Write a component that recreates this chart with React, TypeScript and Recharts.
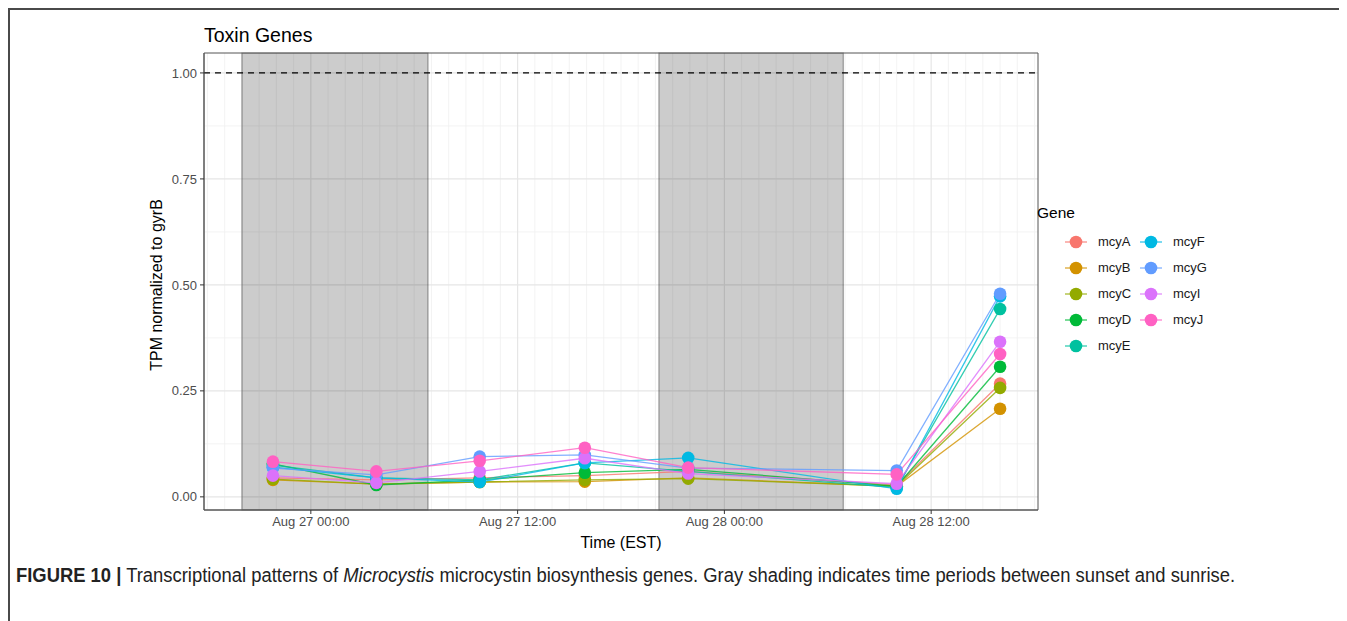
import React from "react";
import {
  LineChart,
  Line,
  XAxis,
  YAxis,
  CartesianGrid,
  ReferenceArea,
  ReferenceLine,
} from "recharts";

// sampling times, hours relative to Aug 27 00:00 EST
const hours = [-2.2, 3.8, 9.8, 15.9, 21.9, 34.0, 40.0];

const mcyA = [0.045, 0.04, 0.045, 0.05, 0.06, 0.028, 0.267];
const mcyB = [0.04, 0.03, 0.035, 0.036, 0.045, 0.025, 0.208];
const mcyC = [0.042, 0.03, 0.035, 0.04, 0.043, 0.025, 0.257];
const mcyD = [0.078, 0.028, 0.04, 0.057, 0.065, 0.025, 0.307];
const mcyE = [0.075, 0.045, 0.04, 0.08, 0.06, 0.022, 0.443];
const mcyF = [0.07, 0.045, 0.035, 0.08, 0.092, 0.019, 0.473];
const mcyG = [0.068, 0.052, 0.095, 0.099, 0.068, 0.062, 0.479];
const mcyI = [0.05, 0.033, 0.06, 0.091, 0.055, 0.031, 0.366];
const mcyJ = [0.083, 0.06, 0.085, 0.116, 0.069, 0.053, 0.337];

// night periods (sunset -> sunrise), hours
const nights = [
  [-4.0, 6.8],
  [20.2, 30.9],
];

const xTicks = [0, 12, 24, 36];
const xTickLabels = ["Aug 27 00:00", "Aug 27 12:00", "Aug 28 00:00", "Aug 28 12:00"];
const yTicks = [0, 0.25, 0.5, 0.75, 1.0];

const GENES = [
  { key: "mcyA", values: mcyA, color: "#F8766D" },
  { key: "mcyB", values: mcyB, color: "#D39200" },
  { key: "mcyC", values: mcyC, color: "#93AA00" },
  { key: "mcyD", values: mcyD, color: "#00BA38" },
  { key: "mcyE", values: mcyE, color: "#00C19F" },
  { key: "mcyF", values: mcyF, color: "#00B9E3" },
  { key: "mcyG", values: mcyG, color: "#619CFF" },
  { key: "mcyI", values: mcyI, color: "#DB72FB" },
  { key: "mcyJ", values: mcyJ, color: "#FF61C3" },
];

const X_DOMAIN: [number, number] = [-6.2, 42.2];
const Y_DOMAIN: [number, number] = [-0.031, 1.047];

const rows = hours.map((h, i) => {
  const r: Record<string, number> = { h };
  GENES.forEach((g) => (r[g.key] = g.values[i]));
  return r;
});

const hourGrid = Array.from({ length: 49 }, (_, i) => i - 6);
const minorY = [0.125, 0.375, 0.625, 0.875];

const FONT = '"Liberation Sans", Arial, Helvetica, sans-serif';

export default function App() {
  return (
    <div style={{ position: "relative", width: 1339, height: 613, fontFamily: FONT, color: "#000" }}>
      {/* figure frame */}
      <div style={{ position: "absolute", left: 0, top: 0, width: 1339, height: 1.5, background: "#4a4a4a" }} />
      <div style={{ position: "absolute", left: 0, top: 0, width: 1.5, height: 613, background: "#4a4a4a" }} />

      <div style={{ position: "absolute", left: 196, top: 17, fontSize: 19.5, lineHeight: "20px" }}>Toxin Genes</div>

      <div style={{ position: "absolute", left: 0, top: 0 }}>
        <LineChart width={1100} height={560} data={rows} margin={{ top: 45, right: 70, left: 0, bottom: 0 }}>
          <CartesianGrid verticalValues={hourGrid} horizontalValues={minorY} stroke="#f0f0f0" strokeWidth={0.8} />
          <CartesianGrid verticalValues={xTicks} horizontalValues={yTicks} stroke="#e6e6e6" strokeWidth={1.2} />
          {nights.map(([a, b], i) => (
            <ReferenceArea
              key={i}
              x1={a}
              x2={b}
              y1={Y_DOMAIN[0]}
              y2={Y_DOMAIN[1]}
              fill="#000"
              fillOpacity={0.2}
              stroke="#000"
              strokeOpacity={0.35}
              strokeWidth={1.2}
            />
          ))}
          <ReferenceArea
            x1={X_DOMAIN[0]}
            x2={X_DOMAIN[1]}
            y1={Y_DOMAIN[0]}
            y2={Y_DOMAIN[1]}
            fill="none"
            stroke="#555"
            strokeWidth={1}
          />
          <ReferenceLine y={1} stroke="#000" strokeDasharray="6 5" strokeWidth={1.2} />
          <XAxis
            dataKey="h"
            type="number"
            domain={X_DOMAIN}
            allowDataOverflow
            ticks={xTicks}
            tickFormatter={(v: number) => xTickLabels[xTicks.indexOf(v)] ?? ""}
            height={58}
            tickSize={4}
            tickMargin={3}
            axisLine={{ stroke: "#555" }}
            tickLine={{ stroke: "#333" }}
            tick={{ fontSize: 13, fill: "#4d4d4d", fontFamily: FONT }}
          />
          <YAxis
            type="number"
            domain={Y_DOMAIN}
            allowDataOverflow
            ticks={yTicks}
            tickFormatter={(v: number) => v.toFixed(2)}
            width={196}
            tickSize={4}
            tickMargin={3}
            axisLine={{ stroke: "#555" }}
            tickLine={{ stroke: "#333" }}
            tick={{ fontSize: 13, fill: "#4d4d4d", fontFamily: FONT }}
          />
          {GENES.map((g) => (
            <Line
              key={g.key + "-line"}
              dataKey={g.key}
              stroke={g.color}
              strokeOpacity={0.8}
              strokeWidth={1.3}
              dot={false}
              activeDot={false}
              isAnimationActive={false}
            />
          ))}
          {GENES.map((g) => (
            <Line
              key={g.key + "-pt"}
              dataKey={g.key}
              stroke="none"
              dot={{ r: 6.3, fill: g.color, stroke: "none", fillOpacity: 1 }}
              activeDot={false}
              isAnimationActive={false}
            />
          ))}
        </LineChart>
      </div>

      <div
        style={{
          position: "absolute",
          left: 149,
          top: 277,
          fontSize: 16,
          whiteSpace: "nowrap",
          transform: "translate(-50%, -50%) rotate(-90deg)",
        }}
      >
        TPM normalized to gyrB
      </div>
      <div
        style={{
          position: "absolute",
          left: 613,
          top: 535,
          fontSize: 16,
          whiteSpace: "nowrap",
          transform: "translate(-50%, -50%)",
        }}
      >
        Time (EST)
      </div>

      {/* legend */}
      <div style={{ position: "absolute", left: 1029, top: 196, fontSize: 15.5, lineHeight: "18px" }}>Gene</div>
      {GENES.map((g, i) => {
        const col = i < 5 ? 0 : 1;
        const row = i < 5 ? i : i - 5;
        const cx = col === 0 ? 1068 : 1143;
        const cy = 234 + row * 26;
        return (
          <React.Fragment key={g.key}>
            <svg style={{ position: "absolute", left: cx - 12, top: cy - 8 }} width={24} height={16}>
              <line x1={1} y1={8} x2={23} y2={8} stroke={g.color} strokeOpacity={0.8} strokeWidth={1.3} />
              <circle cx={12} cy={8} r={6.3} fill={g.color} />
            </svg>
            <div
              style={{
                position: "absolute",
                left: cx + 22,
                top: cy - 8,
                fontSize: 13,
                lineHeight: "16px",
                color: "#1a1a1a",
              }}
            >
              {g.key}
            </div>
          </React.Fragment>
        );
      })}

      <div
        style={{
          position: "absolute",
          left: 8,
          top: 556,
          fontSize: 20,
          lineHeight: "22px",
          whiteSpace: "nowrap",
          transform: "scaleX(0.92)",
          transformOrigin: "left center",
          color: "#222",
        }}
      >
        <b>FIGURE 10 |</b> Transcriptional patterns of <i>Microcystis</i> microcystin biosynthesis genes. Gray shading
        indicates time periods between sunset and sunrise.
      </div>
    </div>
  );
}
